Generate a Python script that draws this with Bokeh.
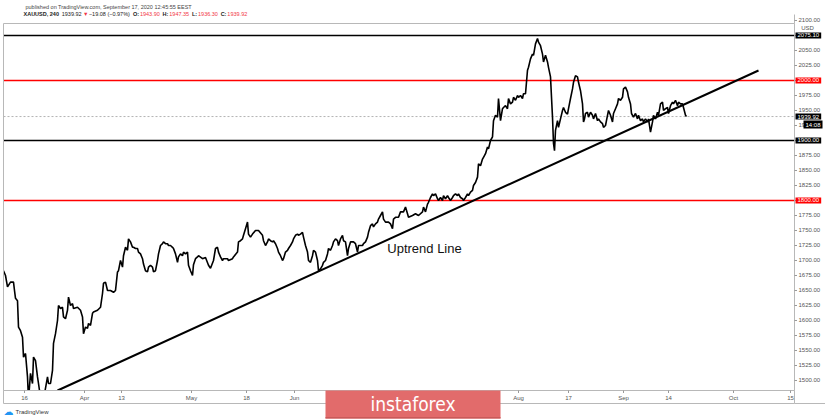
from bokeh.plotting import figure
from bokeh.models import Range1d, Label
from bokeh.embed import file_html
from bokeh.resources import INLINE

# ---- data (x = 4h bar index, y = XAUUSD price) ----
bar = [0, 2, 4, 7, 10, 11, 12, 14, 15, 17, 19, 20, 22, 24, 25, 27, 29, 30, 32, 34, 35, 37, 40, 44, 45, 47, 49,
       50, 52, 54, 55, 57, 59, 60, 62, 64, 65, 67, 69, 70, 74, 77, 79, 80, 82, 84, 85, 87, 89, 90, 94, 97, 99,
       100, 102, 104, 107, 110, 112, 114, 115, 117, 119, 120, 122, 124, 125, 127, 129, 130, 132, 134, 135, 137,
       139, 140, 142, 144, 145, 147, 149, 150, 152, 154, 155, 157, 159, 160, 162, 164, 165, 167, 169, 170, 172,
       174, 175, 177, 179, 180, 182, 184, 185, 187, 189, 190, 192, 194, 195, 199, 202, 205, 207, 210, 212, 214,
       215, 217, 219, 220, 224, 225, 229, 230, 234, 235, 237, 239, 240, 242, 244, 245, 247, 249, 252, 255, 259,
       260, 262, 264, 265, 267, 269, 270, 272, 274, 275, 277, 279, 280, 282, 284, 285, 287, 289, 290, 292, 294,
       295, 297, 299, 300, 302, 304, 305, 307, 309, 310, 312, 314, 315, 317, 319, 320, 322, 324, 325, 327, 329,
       330, 332, 334, 335, 337, 339, 340, 342, 344, 345, 347, 350, 352, 354, 355, 359, 360, 362, 364, 365, 367,
       369, 370, 372, 374, 375, 377, 379, 380, 382, 385, 387, 389, 390, 392, 395, 397, 400, 402, 404, 405, 409,
       412, 415, 419, 420, 422, 424, 425, 427, 429, 430, 432, 434, 435, 437, 439, 440, 442, 444, 445, 447, 449,
       450, 452, 454, 455, 457, 459, 460, 462, 464, 465, 467, 469, 470, 472, 474, 475, 477, 479, 480, 482, 484,
       485, 487, 489, 490, 492, 494, 495, 497, 499, 500, 502, 504, 505, 507, 509, 510, 512, 514, 515, 517, 519,
       520, 522, 524, 525, 527, 529, 530, 532, 534, 535, 537, 539, 540, 542, 544, 545, 547, 548, 549, 550, 551,
       552, 554, 555, 557, 559, 560, 562, 564, 565, 567, 569, 570, 572, 574, 575, 577, 579, 580, 581, 582, 584,
       585, 587, 589, 590, 592, 594, 595, 597, 599, 600, 602, 604, 605, 607, 609, 610, 612, 614, 615, 617, 619,
       620, 622, 624, 625, 627, 628, 630, 632, 634, 635, 637, 639, 640, 642, 644, 645, 647, 649, 650, 652, 654,
       655, 657, 659, 660, 662, 664, 665, 667, 669, 670, 672, 674, 675, 677, 679, 680, 682, 683]
price = [1683, 1675, 1656, 1664, 1664, 1650, 1637, 1633, 1589, 1583, 1572, 1539, 1545, 1506, 1468, 1512, 1495,
         1539, 1533, 1506, 1495, 1472, 1468, 1506, 1495, 1495, 1517, 1562, 1578, 1600, 1625, 1620, 1622, 1606,
         1603, 1617, 1639, 1625, 1628, 1620, 1622, 1617, 1606, 1578, 1589, 1587, 1595, 1592, 1612, 1614, 1617,
         1622, 1645, 1662, 1664, 1650, 1650, 1647, 1650, 1681, 1683, 1700, 1689, 1708, 1722, 1717, 1736, 1731,
         1722, 1722, 1720, 1720, 1714, 1711, 1703, 1694, 1683, 1681, 1689, 1692, 1689, 1681, 1683, 1700, 1711,
         1725, 1728, 1731, 1728, 1728, 1725, 1725, 1722, 1720, 1711, 1697, 1706, 1711, 1708, 1714, 1711, 1714,
         1692, 1683, 1675, 1693, 1703, 1706, 1708, 1703, 1705, 1692, 1687, 1700, 1720, 1722, 1714, 1706, 1700,
         1703, 1703, 1700, 1703, 1706, 1714, 1731, 1733, 1736, 1742, 1753, 1764, 1744, 1739, 1744, 1750, 1750,
         1742, 1733, 1725, 1731, 1736, 1733, 1731, 1733, 1728, 1720, 1714, 1708, 1700, 1703, 1714, 1717, 1720,
         1725, 1731, 1736, 1742, 1744, 1742, 1744, 1747, 1739, 1725, 1714, 1700, 1697, 1708, 1717, 1714, 1700,
         1683, 1686, 1692, 1697, 1700, 1711, 1720, 1717, 1725, 1731, 1736, 1733, 1725, 1736, 1742, 1733, 1731,
         1708, 1720, 1731, 1731, 1728, 1714, 1725, 1725, 1728, 1731, 1739, 1747, 1758, 1761, 1756, 1761, 1764,
         1769, 1775, 1781, 1769, 1764, 1764, 1761, 1753, 1769, 1772, 1772, 1781, 1781, 1789, 1778, 1772, 1775,
         1778, 1775, 1781, 1789, 1781, 1794, 1797, 1805, 1811, 1808, 1811, 1803, 1800, 1805, 1800, 1808, 1803,
         1808, 1805, 1800, 1805, 1808, 1811, 1808, 1811, 1805, 1803, 1800, 1805, 1811, 1808, 1814, 1817, 1825,
         1830, 1839, 1861, 1858, 1869, 1872, 1878, 1889, 1886, 1900, 1906, 1933, 1942, 1939, 1970, 1933, 1953,
         1955, 1958, 1953, 1970, 1961, 1964, 1972, 1967, 1975, 1972, 1975, 1970, 1978, 1978, 2017, 2022, 2036,
         2044, 2042, 2061, 2070, 2064, 2058, 2044, 2031, 2042, 2031, 2022, 2006, 1972, 1939, 1895, 1883, 1917,
         1933, 1922, 1936, 1950, 1955, 1947, 1944, 1953, 1970, 1986, 1997, 2008, 2006, 1997, 1983, 1961, 1931,
         1936, 1945, 1947, 1939, 1947, 1942, 1936, 1945, 1933, 1936, 1931, 1928, 1922, 1925, 1942, 1950, 1942,
         1931, 1945, 1953, 1961, 1970, 1967, 1972, 1986, 1989, 1981, 1972, 1961, 1945, 1939, 1945, 1936, 1942,
         1933, 1936, 1931, 1936, 1931, 1936, 1914, 1931, 1942, 1936, 1947, 1942, 1961, 1964, 1950, 1953, 1955,
         1945, 1958, 1964, 1961, 1967, 1958, 1964, 1961, 1961, 1955, 1942, 1940]

tick_bars = [21, 81, 118, 188, 243, 291, 515, 565, 620, 665, 730, 787]
tick_labels = ["16", "Apr", "13", "May", "18", "Jun", "Aug", "17", "Sep", "14", "Oct", "15"]
price_ticks = [1500, 1525, 1550, 1575, 1600, 1625, 1650, 1675, 1700, 1725, 1750, 1775, 1800, 1825, 1850,
               1875, 1900, 1925, 1950, 1975, 2000, 2025, 2050, 2075, 2100]
black_levels = [2075.10, 1900.00]
red_levels = [2000.00, 1800.00]
last_price = 1939.92
countdown = "14:08"
trend_bar = [54, 755]
trend_price = [1483.3, 2016.7]
trend_label = "Uptrend Line"
symbol = "XAUUSD, 240"
change = "\u221219.08 (\u22120.97%)"
ohlc_names = ["O:", "H:", "L:", "C:"]
ohlc_values = [1943.90, 1947.35, 1936.30, 1939.92]

# ---- layout constants (one canvas-wide frame; 1 bar = 1 px, 1 px = 1/0.6 USD) ----
W, H = 825, 420
PX = 1 / 0.6
Y_TOP = 2133.33


def yp(py):
    """price value that sits at canvas pixel row py"""
    return Y_TOP - py * PX


X_L, X_R = -3, W - 3
PANE_L, PANE_R = 0, 791
PANE_T, PANE_B = yp(23), yp(390)
STRIP_B = yp(403)

FONT = "Liberation Sans"
RED = "#f23645"
GRID = "#b8b8b8"
LBL = "#555555"

p = figure(width=W, height=H, output_backend="svg", toolbar_location=None,
           x_range=Range1d(X_L, X_R), y_range=Range1d(yp(H), Y_TOP),
           x_axis_location=None, y_axis_location=None, min_border=0)
p.grid.visible = False
p.outline_line_color = None
p.background_fill_color = "white"
p.border_fill_color = "white"

# horizontal levels
for lv in black_levels:
    p.segment(x0=PANE_L, x1=PANE_R, y0=lv, y1=lv, line_color="black", line_width=1.6)
for lv in red_levels:
    p.segment(x0=PANE_L, x1=PANE_R, y0=lv, y1=lv, line_color="#ff0000", line_width=1.6)
p.segment(x0=PANE_L, x1=PANE_R, y0=last_price, y1=last_price, line_color="#a0a0a0",
          line_width=0.8, line_dash="2 2")

# trend line and price
p.line(trend_bar, trend_price, line_color="black", line_width=2)
p.line(bar, price, line_color="black", line_width=1.6)
p.text(x=[421], y=[1720], text=[trend_label], text_font={"value": FONT}, text_font_size="13px",
       text_color="#111111", text_align="center", text_baseline="middle")

# mask everything outside the pane
p.quad(left=X_L, right=X_R, bottom=yp(H), top=PANE_B, fill_color="white", line_color=None)
p.quad(left=PANE_R, right=X_R, bottom=yp(H), top=Y_TOP, fill_color="white", line_color=None)
p.quad(left=X_L, right=PANE_L, bottom=yp(H), top=Y_TOP, fill_color="white", line_color=None)

# pane and time-axis borders
p.quad(left=PANE_L, right=PANE_R, bottom=PANE_B, top=PANE_T, fill_color=None, line_color=GRID, line_width=1)
p.quad(left=PANE_L, right=PANE_R, bottom=STRIP_B, top=PANE_B, fill_color=None, line_color=GRID, line_width=1)
p.segment(x0=PANE_R, x1=X_R, y0=STRIP_B, y1=STRIP_B, line_color=GRID, line_width=1)
p.segment(x0=PANE_R, x1=PANE_R, y0=PANE_T, y1=yp(14), line_color=GRID, line_width=1)

# time axis ticks and labels
p.segment(x0=tick_bars, x1=tick_bars, y0=[PANE_B] * len(tick_bars), y1=[yp(392.5)] * len(tick_bars),
          line_color="#999999", line_width=1)
p.text(x=tick_bars, y=[yp(397.5)] * len(tick_bars), text=tick_labels, text_font={"value": FONT},
       text_font_size="6px", text_color=LBL, text_align="center", text_baseline="middle")

# price scale ticks and labels
p.segment(x0=[PANE_R] * len(price_ticks), x1=[PANE_R + 2.5] * len(price_ticks), y0=price_ticks,
          y1=price_ticks, line_color="#999999", line_width=1)
p.text(x=[PANE_R + 4] * len(price_ticks), y=price_ticks, text=["%.2f" % v for v in price_ticks],
       text_font={"value": FONT}, text_font_size="6px", text_color=LBL, text_align="left",
       text_baseline="middle")
# top of the scale is cut by the header strip
p.quad(left=PANE_R + 1, right=X_R, bottom=yp(17.5), top=Y_TOP, fill_color="white", line_color=None)
p.add_layout(Label(x=PANE_R + 13, y=yp(27.5), text="USD", text_font=FONT, text_font_size="6px",
                   text_color=LBL, text_align="center", text_baseline="middle",
                   background_fill_color="white"))


def badge(y, text, bg, x):
    p.add_layout(Label(x=x, y=y, text=text, text_font=FONT, text_font_size="6px",
                       text_color="white", text_align="left", text_baseline="middle",
                       background_fill_color=bg, padding=dict(left=2, right=2, top=1, bottom=1)))


badge(2075.10, "%.2f" % 2075.10, "black", PANE_R + 1)
badge(2000.00, "%.2f" % 2000.00, "#ff0000", PANE_R + 1)
badge(last_price, "%.2f" % last_price, "black", PANE_R + 1)
badge(yp(124), countdown, "black", PANE_R + 9)
badge(1900.00, "%.2f" % 1900.00, "black", PANE_R + 1)
badge(1800.00, "%.2f" % 1800.00, "#ff0000", PANE_R + 1)

# ---- header ----
HF = 5.5  # px
p.add_layout(Label(x=25, y=H - 6, x_units="screen", y_units="screen",
                   text="published on TradingView.com, September 17, 2020 12:45:55 EEST",
                   text_font=FONT, text_font_size="%.1fpx" % HF, text_color="#444444",
                   text_baseline="middle"))

EM = {"X": .667, "A": .722, "U": .722, "S": .667, "D": .722, "O": .778, "H": .722, "L": .611, "C": .722,
      ",": .278, ".": .278, " ": .278, ":": .333, "(": .333, ")": .333, "%": .889, "\u2212": .584,
      "\u25bc": .77}


def text_w(s):
    return sum(EM.get(ch, .556) for ch in s) * HF


pieces = [(symbol, "#222222", "bold", 0.9), ("%.2f" % last_price, "#222222", "normal", 0.5),
          ("\u25bc", RED, "normal", 0.5), (change, "#222222", "normal", 1.0)]
for n, v in zip(ohlc_names, ohlc_values):
    pieces += [(n, "#222222", "bold", 0.3), ("%.2f" % v, RED, "normal", 0.9)]
hx = 23.0
for t, c, w, gap in pieces:
    p.add_layout(Label(x=hx, y=H - 13.5, x_units="screen", y_units="screen", text=t, text_font=FONT,
                       text_font_size="%.1fpx" % HF, text_color=c, text_font_style=w,
                       text_baseline="middle"))
    hx += text_w(t) + gap * HF * 0.278 * 2

# ---- footer logo ----
p.add_layout(Label(x=15, y=H - 411, x_units="screen", y_units="screen", text="TradingView", text_font=FONT,
                   text_font_size="6px", text_color="#333333", text_baseline="middle"))
p.add_layout(Label(x=3, y=H - 411, x_units="screen", y_units="screen", text="\u2601", text_font="DejaVu Sans",
                   text_font_size="10px", text_color="#2196f3", text_baseline="middle"))

# ---- watermark ----
p.quad(left=322, right=497, bottom=yp(418), top=yp(390), fill_color="#e26b6b", line_color=None)
p.quad(left=322, right=497, bottom=yp(418), top=yp(416.5), fill_color="#c95a5a", line_color=None)
p.text(x=[409.5], y=[yp(403)], text=["instaforex"], text_font={"value": "DejaVu Sans Condensed, Lato"},
       text_font_size="19px", text_color="white", text_align="center", text_baseline="middle")

open("out.html", "w").write(file_html(p, INLINE))
